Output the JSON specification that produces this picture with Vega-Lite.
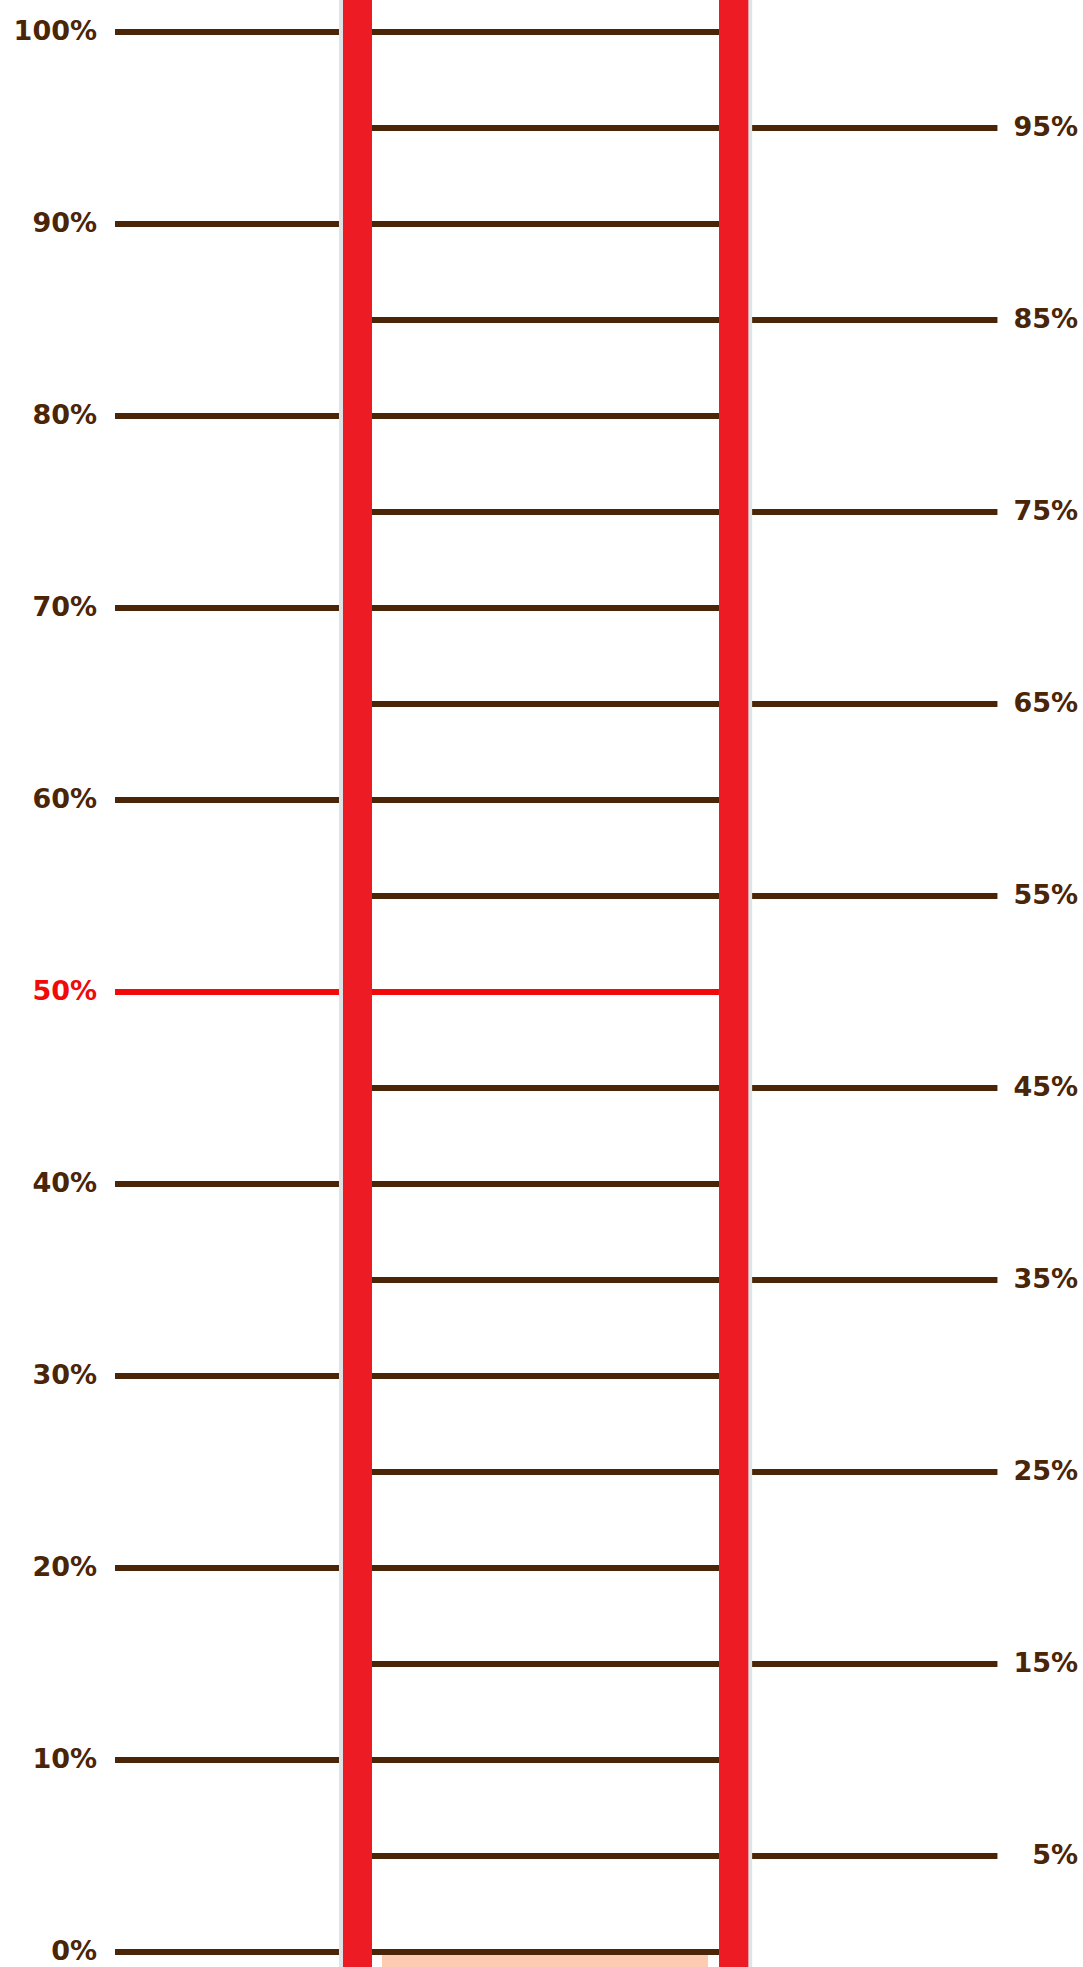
{
  "$schema": "https://vega.github.io/schema/vega-lite/v6.json",
  "autosize": {"type": "fit", "contains": "padding"},
  "width": 1083,
  "height": 1967,
  "padding": 0,
  "background": "white",
  "config": {"view": {"stroke": null}, "axis": {"domain": false}},
  "data": {"values": [
    {"pct": 0, "label": "0%"}, {"pct": 5, "label": "5%"}, {"pct": 10, "label": "10%"},
    {"pct": 15, "label": "15%"}, {"pct": 20, "label": "20%"}, {"pct": 25, "label": "25%"},
    {"pct": 30, "label": "30%"}, {"pct": 35, "label": "35%"}, {"pct": 40, "label": "40%"},
    {"pct": 45, "label": "45%"}, {"pct": 50, "label": "50%"}, {"pct": 55, "label": "55%"},
    {"pct": 60, "label": "60%"}, {"pct": 65, "label": "65%"}, {"pct": 70, "label": "70%"},
    {"pct": 75, "label": "75%"}, {"pct": 80, "label": "80%"}, {"pct": 85, "label": "85%"},
    {"pct": 90, "label": "90%"}, {"pct": 95, "label": "95%"}, {"pct": 100, "label": "100%"}
  ]},
  "layer": [
    {
      "data": {"values": [{"reading": 0}]},
      "mark": {"type": "rect", "color": "#FCCBB2"},
      "encoding": {
        "x": {"datum": 35.27, "type": "quantitative", "scale": {"domain": [0, 100], "nice": false, "zero": false}, "axis": null},
        "x2": {"datum": 65.37},
        "y": {"field": "reading", "type": "quantitative", "scale": {"domain": [-0.78, 101.67], "nice": false, "zero": false}, "axis": null},
        "y2": {"datum": -0.78}
      }
    },
    {
      "transform": [{"filter": "datum.pct % 10 == 0"}],
      "mark": {"type": "rule", "strokeWidth": 6},
      "encoding": {
        "x": {"datum": 10.62, "type": "quantitative"},
        "x2": {"datum": 66.39},
        "y": {"field": "pct", "type": "quantitative"},
        "color": {"condition": {"test": "datum.pct == 50", "value": "#F00A0A"}, "value": "#4A2508"}
      }
    },
    {
      "transform": [{"filter": "datum.pct % 10 == 5"}],
      "mark": {"type": "rule", "strokeWidth": 6, "color": "#4A2508"},
      "encoding": {
        "x": {"datum": 34.35, "type": "quantitative"},
        "x2": {"datum": 92.1},
        "y": {"field": "pct", "type": "quantitative"}
      }
    },
    {
      "transform": [{"filter": "datum.pct % 10 == 0"}],
      "mark": {"type": "text", "align": "right", "baseline": "middle", "font": "DejaVu Sans", "fontWeight": "bold", "fontSize": 27},
      "encoding": {
        "x": {"datum": 8.96, "type": "quantitative"},
        "y": {"field": "pct", "type": "quantitative"},
        "text": {"field": "label"},
        "color": {"condition": {"test": "datum.pct == 50", "value": "#F00A0A"}, "value": "#4A2508"}
      }
    },
    {
      "transform": [{"filter": "datum.pct % 10 == 5"}],
      "mark": {"type": "text", "align": "right", "baseline": "middle", "font": "DejaVu Sans", "fontWeight": "bold", "fontSize": 27, "color": "#4A2508"},
      "encoding": {
        "x": {"datum": 99.54, "type": "quantitative"},
        "y": {"field": "pct", "type": "quantitative"},
        "text": {"field": "label"}
      }
    },
    {
      "data": {"values": [{"tube": "left"}, {"tube": "right"}]},
      "layer": [
        {
          "transform": [{"filter": "datum.tube == 'left'"}],
          "mark": {"type": "rect", "color": "#DCE6E9"},
          "encoding": {
            "x": {"datum": 31.3, "type": "quantitative"},
            "x2": {"datum": 31.7},
            "y": {"datum": -0.78, "type": "quantitative"},
            "y2": {"datum": 101.67}
          }
        },
        {
          "transform": [{"filter": "datum.tube == 'right'"}],
          "mark": {"type": "rect", "color": "#DCE6E9"},
          "encoding": {
            "x": {"datum": 69.05, "type": "quantitative"},
            "x2": {"datum": 69.45},
            "y": {"datum": -0.78, "type": "quantitative"},
            "y2": {"datum": 101.67}
          }
        },
        {
          "transform": [{"filter": "datum.tube == 'left'"}],
          "mark": {"type": "rect", "color": "#ED1C24"},
          "encoding": {
            "x": {"datum": 31.67, "type": "quantitative"},
            "x2": {"datum": 34.35},
            "y": {"datum": -0.78, "type": "quantitative"},
            "y2": {"datum": 101.67}
          }
        },
        {
          "transform": [{"filter": "datum.tube == 'right'"}],
          "mark": {"type": "rect", "color": "#ED1C24"},
          "encoding": {
            "x": {"datum": 66.39, "type": "quantitative"},
            "x2": {"datum": 69.1},
            "y": {"datum": -0.78, "type": "quantitative"},
            "y2": {"datum": 101.67}
          }
        }
      ]
    }
  ]
}
